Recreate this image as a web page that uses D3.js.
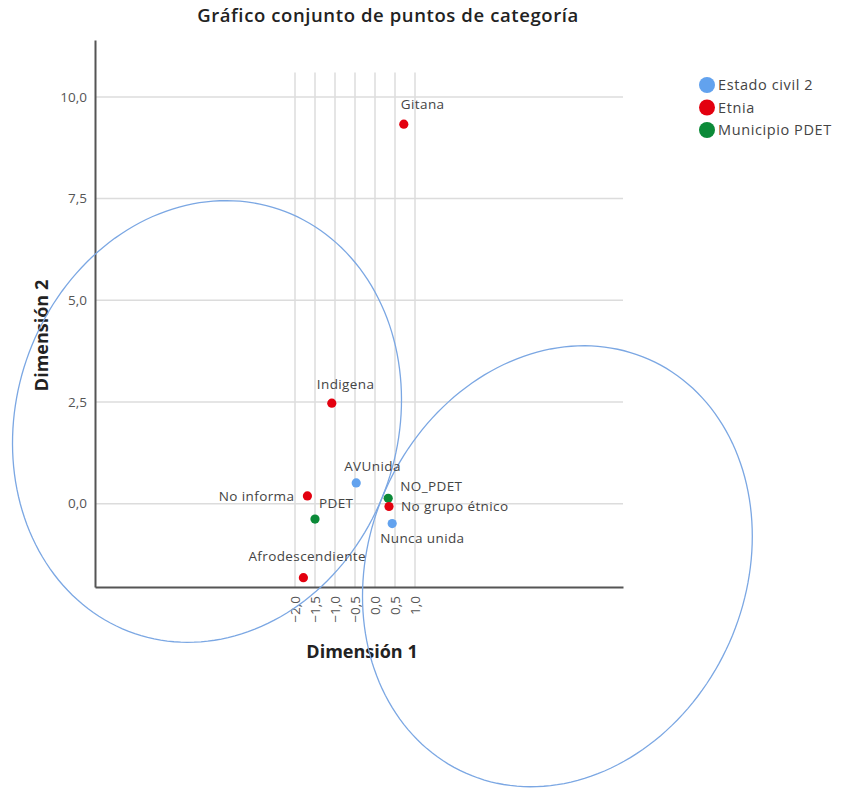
<!DOCTYPE html>
<html>
<head>
<meta charset="utf-8">
<script src="https://cdn.jsdelivr.net/npm/d3@7"></script>
<style>
  html, body { margin: 0; padding: 0; background: #fff; }
  svg { display: block; font-family: "Open Sans", "Noto Sans", sans-serif; }
</style>
</head>
<body>
<svg id="chart" width="843" height="790"></svg>
<script>
// ---------- data ----------
const categoryNames = ["Gitana", "Indigena", "AVUnida", "No informa", "PDET", "NO_PDET", "No grupo étnico", "Nunca unida", "Afrodescendiente"];
const categoryVariable = ["Etnia", "Etnia", "Estado civil 2", "Etnia", "Municipio PDET", "Municipio PDET", "Etnia", "Estado civil 2", "Etnia"];
const dim1Values = [0.72, -1.08, -0.47, -1.69, -1.50, 0.33, 0.35, 0.43, -1.79];
const dim2Values = [9.33, 2.47, 0.51, 0.19, -0.38, 0.13, -0.07, -0.49, -1.82];

const variableNames = ["Estado civil 2", "Etnia", "Municipio PDET"];

const xTickValues = [-2.0, -1.5, -1.0, -0.5, 0.0, 0.5, 1.0];
const yTickValues = [0.0, 2.5, 5.0, 7.5, 10.0];

// ellipses (data units): centre, semi-axes, orientation of major axis (degrees from Dim 1 axis)
const ellipseCenterX = [-4.2, 4.56];
const ellipseCenterY = [2.02, -1.54];
const ellipseMajor = [5.52, 5.58];
const ellipseMinor = [4.76, 4.69];
const ellipseAngle = [69.2, 64.1];

// ---------- layout / style ----------
const colors = { "Estado civil 2": "#62a2ee", "Etnia": "#e3000f", "Municipio PDET": "#0b8a38" };
const labelLayout = [
  { dx: -3, dy: -20, anchor: "start" },
  { dx: -15, dy: -19, anchor: "start" },
  { dx: -12, dy: -17, anchor: "start" },
  { dx: -13, dy: 0, anchor: "end" },
  { dx: 4, dy: -16, anchor: "start" },
  { dx: 12, dy: -12, anchor: "start" },
  { dx: 12, dy: 0, anchor: "start" },
  { dx: -12, dy: 15, anchor: "start" },
  { dx: -55, dy: -21, anchor: "start" }
];

const svg = d3.select("#chart");
const x = d3.scaleLinear().domain([-7.0, 6.2]).range([95, 623]);
const y = d3.scaleLinear().domain([-2.05, 11.4]).range([587, 40]);
const fmt = v => d3.format(".1f")(v).replace(".", ",");

// gridlines
const grid = svg.append("g");
grid.selectAll("line.h").data(yTickValues).join("line")
  .attr("x1", x.range()[0]).attr("x2", x.range()[1])
  .attr("y1", d => y(d)).attr("y2", d => y(d))
  .attr("stroke", "#dcdcdc").attr("stroke-width", 1.5);
grid.selectAll("line.v").data(xTickValues).join("line")
  .attr("x1", d => x(d)).attr("x2", d => x(d))
  .attr("y1", y(10.6)).attr("y2", y.range()[0])
  .attr("stroke", "#dcdcdc").attr("stroke-width", 1.5);

// axes
const yAxis = svg.append("g").attr("transform", `translate(${x.range()[0]},0)`)
  .call(d3.axisLeft(y).tickValues(yTickValues).tickFormat(fmt).tickSize(0).tickPadding(8));
const xAxis = svg.append("g").attr("transform", `translate(0,${y.range()[0]})`)
  .call(d3.axisBottom(x).tickValues(xTickValues).tickFormat(fmt).tickSize(0).tickPadding(0));
[xAxis, yAxis].forEach(a => {
  a.select(".domain").attr("stroke", "#555").attr("stroke-width", 2);
  a.selectAll("text").attr("fill", "#555").attr("font-size", 13.5)
    .attr("font-family", "'Open Sans', sans-serif");
});
xAxis.selectAll(".tick text")
  .attr("transform", "rotate(-90)")
  .attr("text-anchor", "end")
  .attr("x", -9).attr("y", 0).attr("dy", "0.35em");

// axis titles
svg.append("text").attr("x", 362).attr("y", 658).attr("text-anchor", "middle")
  .attr("font-size", 18).attr("font-weight", 700).attr("fill", "#222").text("Dimensión 1");
svg.append("text").attr("transform", `translate(48,${(y.range()[0] + y.range()[1]) / 2 + 22}) rotate(-90)`)
  .attr("text-anchor", "middle")
  .attr("font-size", 18).attr("font-weight", 700).attr("fill", "#222").text("Dimensión 2");

// title
svg.append("text").attr("x", 388).attr("y", 22).attr("text-anchor", "middle")
  .attr("font-size", 18.5).attr("font-weight", 600).attr("letter-spacing", 0.6).attr("fill", "#222")
  .text("Gráfico conjunto de puntos de categoría");

// ellipses
const ellipseLine = d3.line().x(p => x(p[0])).y(p => y(p[1])).curve(d3.curveLinearClosed);
const ellipseData = ellipseCenterX.map((cx, i) => {
  const a = ellipseAngle[i] * Math.PI / 180;
  const ux = Math.cos(a), uy = Math.sin(a);
  const vx = -Math.sin(a), vy = Math.cos(a);
  return d3.range(0, 360, 2).map(deg => {
    const t = deg * Math.PI / 180;
    const c = Math.cos(t) * ellipseMajor[i], s = Math.sin(t) * ellipseMinor[i];
    return [cx + ux * c + vx * s, ellipseCenterY[i] + uy * c + vy * s];
  });
});
svg.append("g").selectAll("path").data(ellipseData).join("path")
  .attr("d", ellipseLine).attr("fill", "none")
  .attr("stroke", "#7ba7e3").attr("stroke-width", 1.3);

// points
const pts = dim1Values.map((v, i) => ({ name: categoryNames[i], variable: categoryVariable[i], d1: v, d2: dim2Values[i], lay: labelLayout[i] }));
svg.append("g").selectAll("circle").data(pts).join("circle")
  .attr("cx", d => x(d.d1)).attr("cy", d => y(d.d2)).attr("r", 4.6)
  .attr("fill", d => colors[d.variable]);
svg.append("g").selectAll("text").data(pts).join("text")
  .attr("x", d => x(d.d1) + d.lay.dx).attr("y", d => y(d.d2) + d.lay.dy)
  .attr("dy", "0.35em").attr("text-anchor", d => d.lay.anchor)
  .attr("font-size", 13.5).attr("letter-spacing", 0.4).attr("fill", "#444").text(d => d.name);

// legend
const legend = svg.append("g").selectAll("g").data(variableNames).join("g")
  .attr("transform", (d, i) => `translate(707,${85 + i * 22.5})`);
legend.append("circle").attr("r", 8).attr("fill", d => colors[d]);
legend.append("text").attr("x", 11).attr("dy", "0.35em").attr("font-size", 14.5).attr("letter-spacing", 0.6)
  .attr("fill", "#444").text(d => d);
</script>
</body>
</html>
